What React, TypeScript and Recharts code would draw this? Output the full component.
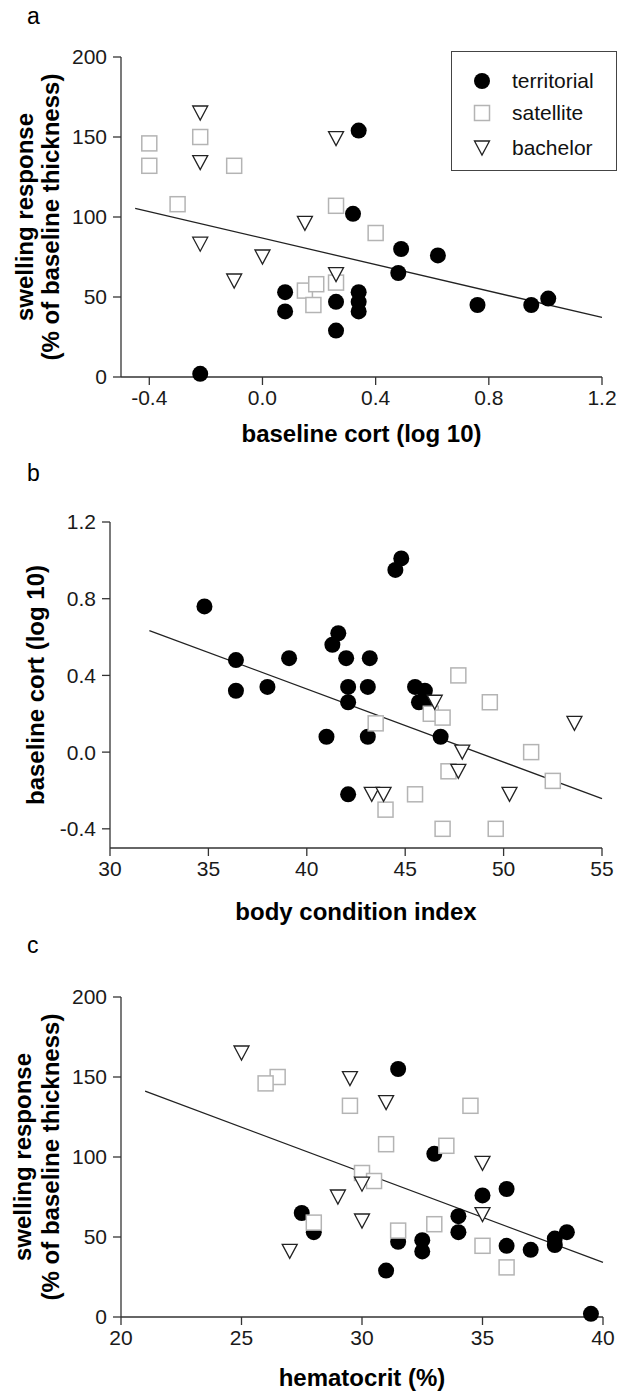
import { ScatterChart, Scatter, XAxis, YAxis, Label, Legend } from "recharts"

const FONT = "'Liberation Sans', Arial, Helvetica, sans-serif"

const groups = ["territorial", "satellite", "bachelor"]

// panel a: baseline cort vs swelling response
const aTerritorial = [
  [-0.22, 2], [0.08, 53], [0.08, 41], [0.26, 47], [0.26, 29], [0.32, 102], [0.34, 154], [0.34, 53],
  [0.34, 47], [0.34, 41], [0.49, 80], [0.48, 65], [0.62, 76], [0.76, 45], [0.95, 45], [1.01, 49],
]
const aSatellite = [
  [-0.4, 146], [-0.4, 132], [-0.22, 150], [-0.1, 132], [-0.3, 108], [0.26, 107], [0.4, 90],
  [0.15, 54], [0.19, 58], [0.18, 45], [0.26, 59],
]
const aBachelor = [
  [-0.22, 165], [-0.22, 134], [-0.22, 83], [-0.1, 60], [0.0, 75], [0.15, 96], [0.26, 149], [0.26, 64],
]
const aFit = [[-0.45, 105.4], [1.2, 37.2]]

// panel b: body condition vs baseline cort
const bTerritorial = [
  [34.8, 0.76], [36.4, 0.48], [36.4, 0.32], [38.0, 0.34], [39.1, 0.49], [44.5, 0.95], [44.8, 1.01],
  [41.6, 0.62], [41.3, 0.56], [42.0, 0.49], [43.2, 0.49], [42.1, 0.34], [43.1, 0.34], [42.1, 0.26],
  [41.0, 0.08], [43.1, 0.08], [45.5, 0.34], [46.0, 0.32], [45.7, 0.26], [46.1, 0.26], [46.8, 0.08],
  [42.1, -0.22],
]
const bSatellite = [
  [47.7, 0.4], [49.3, 0.26], [43.5, 0.15], [46.3, 0.2], [46.9, 0.18], [51.4, 0.0], [52.5, -0.15],
  [47.2, -0.1], [45.5, -0.22], [44.0, -0.3], [46.9, -0.4], [49.6, -0.4],
]
const bBachelor = [
  [46.5, 0.26], [47.9, 0.0], [47.7, -0.1], [53.6, 0.15], [43.3, -0.22], [43.9, -0.22], [50.3, -0.22],
]
const bFit = [[32, 0.634], [55, -0.243]]

// panel c: hematocrit vs swelling response
const cTerritorial = [
  [31.5, 155], [33.0, 102], [36.0, 80], [35.0, 76], [34.0, 63], [34.0, 53], [27.5, 65], [28.0, 53],
  [31.5, 47], [32.5, 48], [32.5, 41], [31.0, 29], [36.0, 44.5], [37.0, 42], [38.0, 49], [38.0, 45],
  [38.5, 53], [39.5, 2],
]
const cSatellite = [
  [26.5, 150], [26.0, 146], [29.5, 132], [34.5, 132], [31.0, 108], [33.5, 107], [30.0, 90],
  [30.5, 85], [28.0, 59], [31.5, 54], [33.0, 58], [35.0, 44.5], [36.0, 31],
]
const cBachelor = [
  [25, 165], [29.5, 149], [31.0, 134], [35.0, 96], [30.0, 83], [29.0, 75], [30.0, 60], [35.0, 64], [27.0, 41],
]
const cFit = [[21, 141.2], [40, 34.1]]

const swellTicks = [0, 50, 100, 150, 200]
const cortTicks = [-0.4, 0, 0.4, 0.8, 1.2]
const bodyTicks = [30, 35, 40, 45, 50, 55]
const hctTicks = [20, 25, 30, 35, 40]

const pts = (arr: number[][]) => arr.map(([x, y]) => ({ x, y }))

const Dot = (p: any) => <circle cx={p.cx} cy={p.cy} r={8} fill="#000" />
const Square = (p: any) => (
  <rect x={p.cx - 7.5} y={p.cy - 7.5} width={15} height={15} fill="#fff" stroke="#b4b4b4" strokeWidth={1.5} />
)
const Tri = (p: any) => (
  <polygon
    points={`${p.cx - 7.5},${p.cy - 7} ${p.cx + 7.5},${p.cy - 7} ${p.cx},${p.cy + 7}`}
    fill="#fff"
    stroke="#222"
    strokeWidth={1.3}
  />
)
const Nothing = () => <g />

const axisStyle = { stroke: "#333", strokeWidth: 1.3 }
const tickStyle = { fill: "#1a1a1a", fontSize: 21, fontFamily: FONT }
const titleStyle = { fill: "#000", fontSize: 24, fontWeight: 700, fontFamily: FONT }
const fmt1 = (v: number) => v.toFixed(1)

function YTitle(props: any) {
  const vb = props.viewBox || { y: 0, height: 0 }
  const cy = vb.y + vb.height / 2
  return (
    <g>
      {props.lines.map((t: string, i: number) => (
        <text
          key={i}
          x={props.xs[i]}
          y={cy}
          transform={`rotate(-90 ${props.xs[i]} ${cy})`}
          textAnchor="middle"
          dominantBaseline="central"
          style={titleStyle}
        >
          {t}
        </text>
      ))}
    </g>
  )
}

function KeyBox() {
  const icons = [
    <circle cx={9} cy={9} r={8} fill="#000" />,
    <rect x={1.5} y={1.5} width={15} height={15} fill="#fff" stroke="#b4b4b4" strokeWidth={1.5} />,
    <polygon points="1.5,2 16.5,2 9,16" fill="#fff" stroke="#222" strokeWidth={1.3} />,
  ]
  const rows = [29, 61, 96]
  return (
    <div style={{ position: "relative", width: 166, height: 120, border: "1.3px solid #444", boxSizing: "border-box", background: "#fff" }}>
      {groups.map((g, i) => (
        <div key={g}>
          <svg width={18} height={18} style={{ position: "absolute", left: 21, top: rows[i] - 9 }}>
            {icons[i]}
          </svg>
          <span style={{ position: "absolute", left: 60, top: rows[i] - 12, fontSize: 21, lineHeight: "24px", fontFamily: FONT, color: "#111" }}>
            {g}
          </span>
        </div>
      ))}
    </div>
  )
}

function Panel(props: any) {
  const { top, height, margin, xHeight, yWidth, xDomain, xTicks, yDomain, yTicks, xFmt, yFmt, xTitle, xOffset, yLines, yXs, sets, fit, legend } = props
  return (
    <div style={{ position: "absolute", left: 0, top }}>
      <ScatterChart width={618} height={height} margin={margin}>
        <XAxis
          type="number"
          dataKey="x"
          domain={xDomain}
          ticks={xTicks}
          tickFormatter={xFmt}
          height={xHeight}
          axisLine={axisStyle}
          tickLine={axisStyle}
          tickSize={8}
          tickMargin={5}
          tick={tickStyle}
          interval={0}
        >
          <Label value={xTitle} position="insideBottom" offset={xOffset} style={titleStyle} />
        </XAxis>
        <YAxis
          type="number"
          dataKey="y"
          domain={yDomain}
          ticks={yTicks}
          tickFormatter={yFmt}
          width={yWidth}
          axisLine={axisStyle}
          tickLine={axisStyle}
          tickSize={8}
          tickMargin={6}
          tick={tickStyle}
          interval={0}
        >
          <Label content={<YTitle lines={yLines} xs={yXs} />} />
        </YAxis>
        <Scatter data={pts(fit)} line={{ stroke: "#222", strokeWidth: 1.3 }} shape={Nothing} legendType="none" isAnimationActive={false} />
        <Scatter name={groups[0]} data={pts(sets[0])} shape={Dot} isAnimationActive={false} />
        <Scatter name={groups[1]} data={pts(sets[1])} shape={Square} isAnimationActive={false} />
        <Scatter name={groups[2]} data={pts(sets[2])} shape={Tri} isAnimationActive={false} />
        {legend && (
          <Legend
            layout="vertical"
            align="center"
            verticalAlign="middle"
            content={<KeyBox />}
            wrapperStyle={{ top: 51, left: 451, width: 166, height: 120 }}
          />
        )}
      </ScatterChart>
    </div>
  )
}

const letterStyle = { position: "absolute" as const, left: 27, fontSize: 23, lineHeight: "23px", fontFamily: FONT, color: "#000" }

export default function App() {
  return (
    <div style={{ position: "absolute", left: 0, top: 0, width: 618, height: 1392, background: "#fff", overflow: "hidden" }}>
      <div style={{ ...letterStyle, top: 5 }}>a</div>
      <div style={{ ...letterStyle, top: 462 }}>b</div>
      <div style={{ ...letterStyle, top: 934 }}>c</div>
      <Panel
        top={0}
        height={460}
        margin={{ top: 57, right: 16, bottom: 0, left: 0 }}
        xHeight={83}
        yWidth={121}
        xDomain={[-0.5, 1.2]}
        xTicks={cortTicks}
        xFmt={fmt1}
        yDomain={[0, 200]}
        yTicks={swellTicks}
        xTitle="baseline cort (log 10)"
        xOffset={18}
        yLines={["swelling response", "(% of baseline thickness)"]}
        yXs={[24, 50]}
        sets={[aTerritorial, aSatellite, aBachelor]}
        fit={aFit}
        legend
      />
      <Panel
        top={460}
        height={470}
        margin={{ top: 62, right: 16, bottom: 0, left: 0 }}
        xHeight={82}
        yWidth={110}
        xDomain={[30, 55]}
        xTicks={bodyTicks}
        yDomain={[-0.5, 1.2]}
        yTicks={cortTicks}
        yFmt={fmt1}
        xTitle="body condition index"
        xOffset={10}
        yLines={["baseline cort (log 10)"]}
        yXs={[35]}
        sets={[bTerritorial, bSatellite, bBachelor]}
        fit={bFit}
      />
      <Panel
        top={930}
        height={462}
        margin={{ top: 67, right: 15, bottom: 0, left: 0 }}
        xHeight={75}
        yWidth={121}
        xDomain={[20, 40]}
        xTicks={hctTicks}
        yDomain={[0, 200]}
        yTicks={swellTicks}
        xTitle="hematocrit (%)"
        xOffset={6}
        yLines={["swelling response", "(% of baseline thickness)"]}
        yXs={[22, 50]}
        sets={[cTerritorial, cSatellite, cBachelor]}
        fit={cFit}
      />
    </div>
  )
}
